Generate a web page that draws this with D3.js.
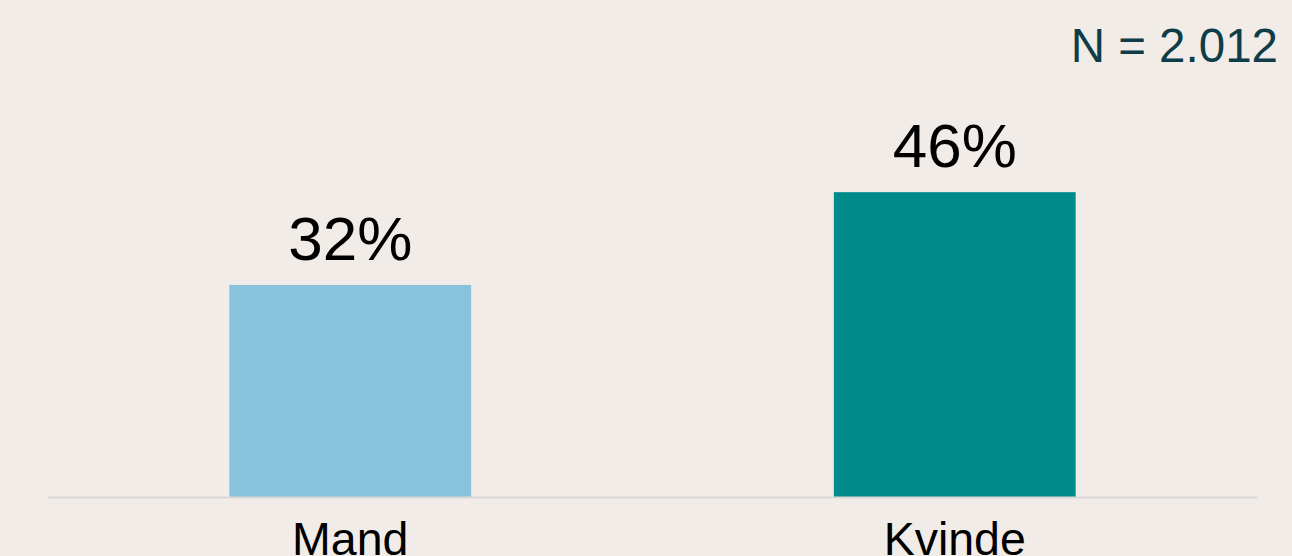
<!DOCTYPE html>
<html>
<head>
<meta charset="utf-8">
<script src="https://cdn.jsdelivr.net/npm/d3@7/dist/d3.min.js"></script>
<style>
html,body{margin:0;padding:0;background:#f1ece8;}
svg{display:block;}
text{font-family:"Liberation Sans", Arial, sans-serif;}
</style>
</head>
<body>
<svg id="chart" width="1292" height="556"></svg>
<script>
const categories = ["Mand", "Kvinde"];
const values = [32, 46];
const valueLabels = ["32%", "46%"];
const colors = ["#89c2dd", "#008b8b"];
const note = "N = 2.012";

const W = 1292, H = 556;
const svg = d3.select("#chart");
svg.append("rect").attr("width", W).attr("height", H).attr("fill", "#f1ece8");

const x = d3.scaleBand().domain(categories).range([48, 1257]).paddingInner(0.6).paddingOuter(0.3);
const y = d3.scaleLinear().domain([0, 75]).range([497, 0]);

svg.selectAll("rect.bar").data(values).enter().append("rect")
  .attr("class", "bar")
  .attr("x", (d, i) => x(categories[i]))
  .attr("width", x.bandwidth())
  .attr("y", d => y(d))
  .attr("height", d => y(0) - y(d))
  .attr("fill", (d, i) => colors[i]);

svg.append("line")
  .attr("x1", 48).attr("x2", 1257)
  .attr("y1", y(0) + 0.5).attr("y2", y(0) + 0.5)
  .attr("stroke", "#dad8d6").attr("stroke-width", 2);

svg.selectAll("text.val").data(values).enter().append("text")
  .attr("class", "val")
  .attr("x", (d, i) => x(categories[i]) + x.bandwidth() / 2)
  .attr("y", d => y(d) - 25)
  .attr("text-anchor", "middle")
  .attr("font-size", 62)
  .attr("fill", "#000")
  .text((d, i) => valueLabels[i]);

svg.selectAll("text.cat").data(categories).enter().append("text")
  .attr("class", "cat")
  .attr("x", d => x(d) + x.bandwidth() / 2)
  .attr("y", 555)
  .attr("text-anchor", "middle")
  .attr("font-size", 46.5)
  .attr("fill", "#000")
  .text(d => d);

svg.append("text")
  .attr("x", 1278).attr("y", 62)
  .attr("text-anchor", "end")
  .attr("font-size", 47.5)
  .attr("fill", "#0e3d47")
  .text(note);
</script>
</body>
</html>
